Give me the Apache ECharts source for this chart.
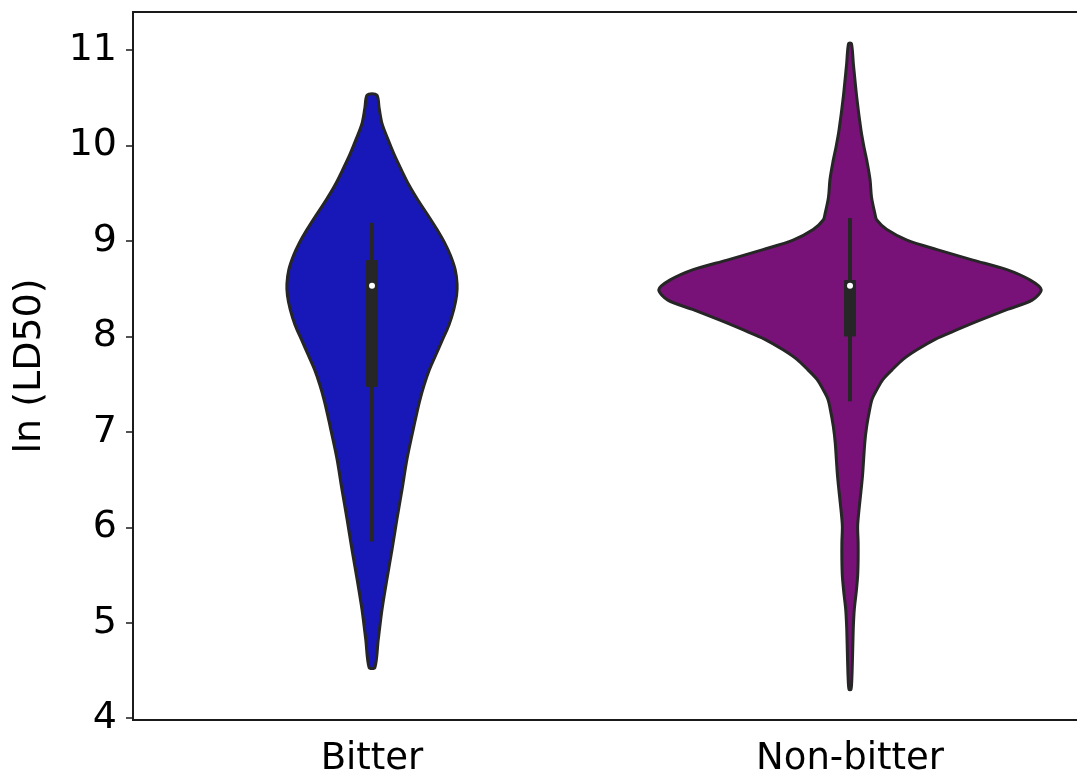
<!DOCTYPE html>
<html>
<head>
<meta charset="utf-8">
<script src="https://cdn.jsdelivr.net/npm/echarts@6/dist/echarts.min.js"></script>
<style>
  html, body { margin: 0; padding: 0; background: #ffffff; overflow: hidden; }
  #chart { width: 1077px; height: 779px; }
</style>
</head>
<body>
<div id="chart"></div>
<script>
// ---- data ----
const categories = ['Bitter', 'Non-bitter'];
const yTicks = [4, 5, 6, 7, 8, 9, 10, 11];

// density outline: y level (ln LD50) and half-width in category-band units
const bitterLevels = [4.53, 4.82, 5.14, 5.45, 5.77, 6.08, 6.40, 6.71, 7.02, 7.18, 7.33, 7.49, 7.65, 7.80, 7.96, 8.12, 8.28, 8.43, 8.55, 8.70, 8.85, 8.98, 9.12, 9.27, 9.43, 9.59, 9.75, 9.91, 10.07, 10.23, 10.39, 10.53];
const bitterHalfWidth = [0.006, 0.013, 0.021, 0.031, 0.042, 0.052, 0.063, 0.073, 0.086, 0.093, 0.100, 0.109, 0.120, 0.133, 0.147, 0.161, 0.171, 0.177, 0.178, 0.174, 0.164, 0.152, 0.136, 0.117, 0.096, 0.077, 0.061, 0.046, 0.033, 0.021, 0.015, 0.010];

const nonBitterLevels = [4.30, 4.43, 4.78, 4.96, 5.14, 5.32, 5.49, 5.66, 5.84, 6.01, 6.19, 6.53, 6.89, 7.06, 7.23, 7.34, 7.44, 7.55, 7.65, 7.76, 7.86, 7.97, 8.07, 8.17, 8.28, 8.38, 8.49, 8.59, 8.70, 8.80, 8.91, 9.01, 9.12, 9.22, 9.29, 9.46, 9.64, 9.82, 9.99, 10.16, 10.51, 10.86, 11.07];
const nonBitterHalfWidth = [0.002, 0.004, 0.006, 0.007, 0.009, 0.013, 0.016, 0.017, 0.017, 0.016, 0.019, 0.026, 0.031, 0.035, 0.041, 0.046, 0.056, 0.069, 0.088, 0.111, 0.140, 0.178, 0.224, 0.272, 0.328, 0.381, 0.400, 0.377, 0.328, 0.257, 0.182, 0.119, 0.077, 0.056, 0.052, 0.045, 0.042, 0.036, 0.029, 0.023, 0.014, 0.007, 0.003];

// inner box plot
const whiskerLow  = [5.85, 7.32];
const q1          = [7.47, 8.00];
const median      = [8.53, 8.53];
const q3          = [8.80, 8.59];
const whiskerHigh = [9.19, 9.24];

const fillColors = ['#1818b8', '#781278'];
const levelsByCat = [bitterLevels, nonBitterLevels];
const widthsByCat = [bitterHalfWidth, nonBitterHalfWidth];

const chart = echarts.init(document.getElementById('chart'), null, { renderer: 'canvas' });

function renderViolin(params, api) {
  const ci = api.value(0);
  const levels = levelsByCat[ci];
  const widths = widthsByCat[ci];
  const band = api.size([1, 0])[0];
  const right = [], left = [];
  for (let i = 0; i < levels.length; i++) {
    const c = api.coord([ci, levels[i]]);
    right.push([c[0] + widths[i] * band, c[1]]);
    left.push([c[0] - widths[i] * band, c[1]]);
  }
  const pts = right.concat(left.reverse());
  const wl = api.coord([ci, whiskerLow[ci]]);
  const wh = api.coord([ci, whiskerHigh[ci]]);
  const b1 = api.coord([ci, q1[ci]]);
  const b3 = api.coord([ci, q3[ci]]);
  const md = api.coord([ci, median[ci]]);
  const boxW = 12;
  return {
    type: 'group',
    children: [
      {
        type: 'polygon',
        shape: { points: pts, smooth: 0.3 },
        style: { fill: fillColors[ci], stroke: '#262626', lineWidth: 3, lineJoin: 'round' }
      },
      {
        type: 'line',
        shape: { x1: wl[0], y1: wl[1], x2: wh[0], y2: wh[1] },
        style: { stroke: '#262626', lineWidth: 4 }
      },
      {
        type: 'rect',
        shape: { x: b3[0] - boxW / 2, y: b3[1], width: boxW, height: b1[1] - b3[1], r: 1 },
        style: { fill: '#262626' }
      },
      {
        type: 'circle',
        shape: { cx: md[0], cy: md[1], r: 3 },
        style: { fill: '#ffffff' }
      }
    ]
  };
}

chart.setOption({
  animation: false,
  backgroundColor: '#ffffff',
  grid: {
    left: 133, top: 12, width: 956, height: 708,
    containLabel: false, outerBoundsMode: 'none',
    show: true, borderColor: '#1a1a1a', borderWidth: 1.8, backgroundColor: 'transparent'
  },
  xAxis: {
    type: 'category',
    data: categories,
    boundaryGap: true,
    axisLine: { lineStyle: { color: '#1a1a1a', width: 1.8 } },
    axisTick: { alignWithLabel: true, length: 7, lineStyle: { color: '#1a1a1a', width: 1.5 } },
    axisLabel: { fontFamily: 'DejaVu Sans', fontSize: 37, color: '#000', margin: 21 },
    splitLine: { show: false }
  },
  yAxis: {
    type: 'value',
    min: 3.98,
    max: 11.4,
    name: 'ln (LD50)',
    nameLocation: 'middle',
    nameGap: 84,
    nameTextStyle: { fontFamily: 'DejaVu Sans', fontSize: 38, color: '#000' },
    axisLine: { show: true, lineStyle: { color: '#1a1a1a', width: 1.8 } },
    axisTick: { show: true, length: 7, customValues: yTicks, lineStyle: { color: '#1a1a1a', width: 1.5 } },
    axisLabel: { fontFamily: 'DejaVu Sans', fontSize: 38, color: '#000', margin: 16, customValues: yTicks },
    splitLine: { show: false }
  },
  series: [{
    type: 'custom',
    renderItem: renderViolin,
    data: categories.map((c, i) => [i]),
    encode: { x: 0 },
    clip: false
  }]
});
</script>
</body>
</html>
